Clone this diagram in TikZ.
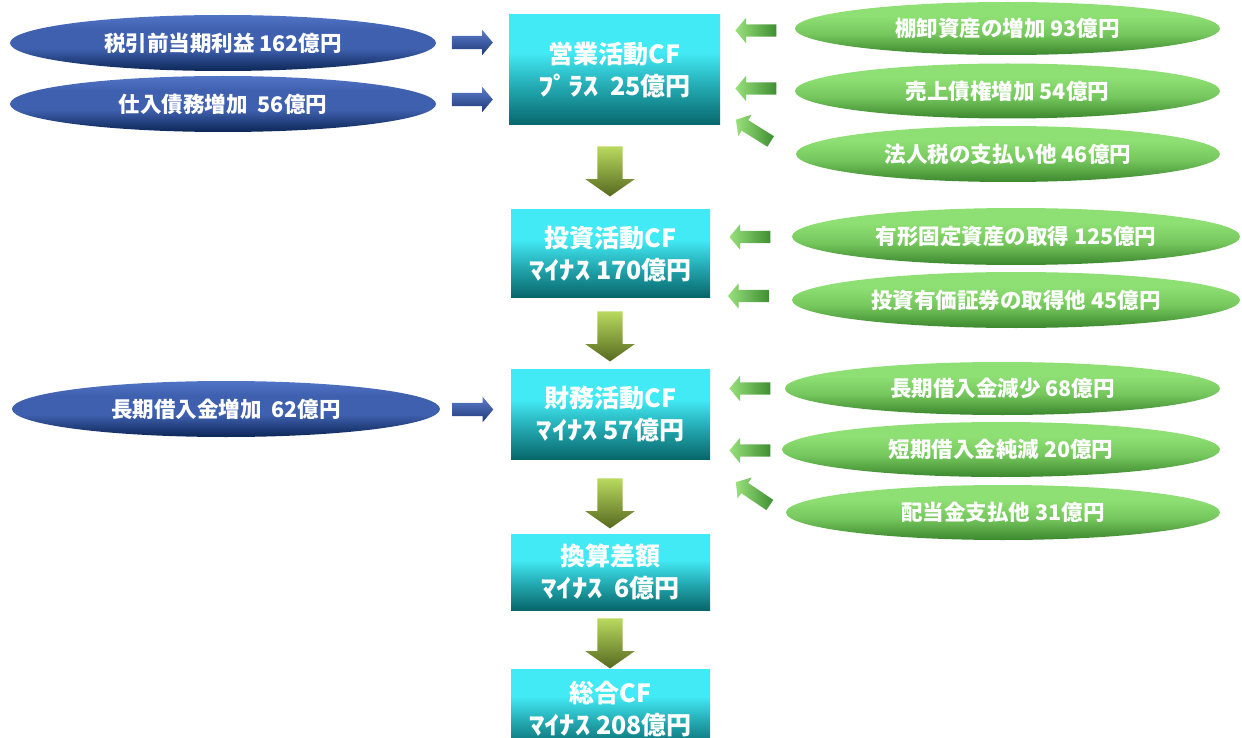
\documentclass[tikz,border=0pt]{standalone}
\usepackage{fontspec}
\usepackage{graphicx}
\setmainfont{Noto Sans CJK JP}
\usetikzlibrary{shapes.geometric,shapes.arrows}
\definecolor{boxtop}{HTML}{42EAF5}
\definecolor{boxmid}{HTML}{23A8B0}
\definecolor{boxbot}{HTML}{07676B}
\definecolor{bluetop}{HTML}{5274C6}
\definecolor{bluemid}{HTML}{3F60AE}
\definecolor{bluebot}{HTML}{0B2656}
\definecolor{greentop}{HTML}{8EE074}
\definecolor{greenmid}{HTML}{76C85E}
\definecolor{greenbot}{HTML}{3C872E}
\definecolor{barrtop}{HTML}{5C7CCC}
\definecolor{barrbot}{HTML}{1F3A77}
\definecolor{olivetop}{HTML}{B9D95E}
\definecolor{olivebot}{HTML}{56691F}
\definecolor{garrlight}{HTML}{9AE07C}
\definecolor{garrdark}{HTML}{3E8E32}
\pgfdeclareverticalshading{boxsh}{100bp}{color(0bp)=(boxbot); color(25bp)=(boxbot); color(42bp)=(boxmid); color(58bp)=(boxtop); color(100bp)=(boxtop)}
\pgfdeclareverticalshading{bluesh}{100bp}{color(0bp)=(bluebot); color(25bp)=(bluebot); color(45bp)=(bluemid); color(62bp)=(bluemid); color(75bp)=(bluetop); color(100bp)=(bluetop)}
\pgfdeclareverticalshading{greensh}{100bp}{color(0bp)=(greenbot); color(25bp)=(greenbot); color(45bp)=(greenmid); color(62bp)=(greentop); color(100bp)=(greentop)}
\newcommand{\hkana}[1]{\scalebox{1.22}[1]{#1}}
\tikzset{
  cfbox/.style={rectangle, shade, shading=boxsh, minimum width=199pt, inner sep=0pt,
    text=white, align=center, font=\fontsize{25}{32}\selectfont\bfseries},
  blueell/.style={ellipse, shade, shading=bluesh, inner sep=0pt, text=white,
    font=\fontsize{21.5}{26}\selectfont\bfseries},
  greenell/.style={ellipse, shade, shading=greensh, inner sep=0pt, text=white,
    font=\fontsize{21.5}{26}\selectfont\bfseries},
  barrow/.style={single arrow, top color=barrtop, bottom color=barrbot, draw=none,
    inner xsep=0pt, inner ysep=6.5pt, minimum height=41pt,
    single arrow head extend=6pt, single arrow tip angle=100, single arrow head indent=0pt},
  garrow/.style={single arrow, shape border rotate=180, left color=garrlight, right color=garrdark, draw=none,
    inner xsep=0pt, inner ysep=6pt, minimum height=41pt,
    single arrow head extend=6.5pt, single arrow tip angle=100, single arrow head indent=0pt},
  darrow/.style={single arrow, shape border rotate=270, top color=olivetop, bottom color=olivebot, draw=none,
    inner xsep=12.5pt, inner ysep=0pt, minimum height=50pt,
    single arrow head extend=12pt, single arrow tip angle=110, single arrow head indent=0pt}
}
\begin{document}
\begin{tikzpicture}[x=1pt,y=-1pt]
\useasboundingbox (0,0) rectangle (1242,738);
\clip (0,0) rectangle (1242,738);
% centre column
\node[cfbox, minimum width=211pt, minimum height=110pt] (op) at (614.5,70) {営業活動CF\\\hkana{ﾌﾟﾗｽ}\ \ 25億円};
\node[cfbox, minimum height=87pt] (inv) at (610.5,253.5) {投資活動CF\\\hkana{ﾏｲﾅｽ} 170億円};
\node[cfbox, minimum height=90pt] (fin) at (610.5,414) {財務活動CF\\\hkana{ﾏｲﾅｽ} 57億円};
\node[cfbox, minimum height=76pt] (fx) at (610.5,572) {換算差額\\\hkana{ﾏｲﾅｽ}\ \ 6億円};
\node[cfbox, minimum height=80pt] (tot) at (610.5,709) {総合CF\\\hkana{ﾏｲﾅｽ} 208億円};
% down arrows
\node[darrow] (d1) at (610,167) {};
\node[darrow] (d2) at (610,332) {};
\node[darrow] (d3) at (610,499) {};
\node[darrow] (d4) at (610,639) {};
% left ellipses
\node[blueell, minimum width=426pt, minimum height=56pt] (l1) at (223,43) {税引前当期利益 162億円};
\node[blueell, minimum width=426pt, minimum height=56pt] (l2) at (223,104) {仕入債務増加\ \ 56億円};
\node[blueell, minimum width=428pt, minimum height=56pt] (l3) at (226,409) {長期借入金増加\ \ 62億円};
\node[barrow] (b1) at (469.5,42.5) {};
\node[barrow] (b2) at (469.5,99.5) {};
\node[barrow] (b3) at (470,409.5) {};
% right ellipses
\node[greenell, minimum width=425pt, minimum height=53pt] (r1) at (1007.5,28.5) {棚卸資産の増加 93億円};
\node[greenell, minimum width=425pt, minimum height=55pt] (r2) at (1007.5,91) {売上債権増加 54億円};
\node[greenell, minimum width=424pt, minimum height=56pt] (r3) at (1008,154) {法人税の支払い他 46億円};
\node[greenell, minimum width=448pt, minimum height=57pt] (r4) at (1016,236.5) {有形固定資産の取得 125億円};
\node[greenell, minimum width=448pt, minimum height=56pt] (r5) at (1016,300) {投資有価証券の取得他 45億円};
\node[greenell, minimum width=435pt, minimum height=53pt] (r6) at (1002.5,388.5) {長期借入金減少 68億円};
\node[greenell, minimum width=438pt, minimum height=55pt] (r7) at (1001,449.5) {短期借入金純減 20億円};
\node[greenell, minimum width=434pt, minimum height=55pt] (r8) at (1003,512.5) {配当金支払他 31億円};
% green arrows
\node[garrow] (g1) at (758.5,30.5) {};
\node[garrow] (g2) at (758.5,88.5) {};
\node[garrow, rotate=-32] (g3) at (755.5,132) {};
\node[garrow] (g4) at (752.5,237) {};
\node[garrow] (g5) at (751,296) {};
\node[garrow] (g6) at (752.5,388.5) {};
\node[garrow] (g7) at (752.5,450.5) {};
\node[garrow, rotate=-34] (g8) at (755,495) {};
\end{tikzpicture}
\end{document}
